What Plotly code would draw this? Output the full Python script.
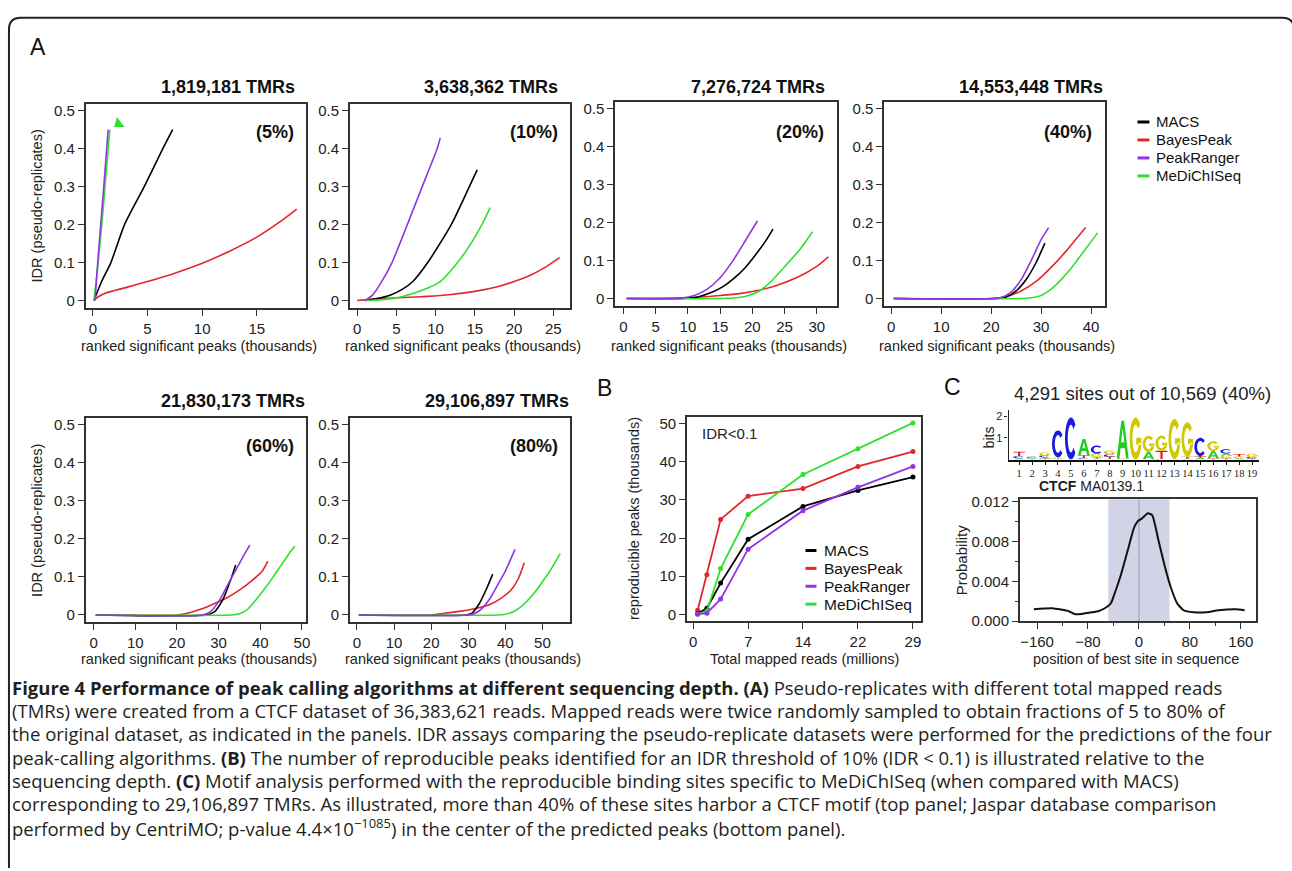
import math
import plotly.graph_objects as go

W, H = 1292, 871
FONT = "Liberation Sans, Arial, sans-serif"
CAPFONT = "Open Sans, Noto Sans, sans-serif"

# ---------------- data ----------------
series_names = ["MACS", "BayesPeak", "PeakRanger", "MeDiChISeq"]
series_colors = ["#000000", "#e3262b", "#9035e6", "#2fe02f"]

panel_titles = ["1,819,181 TMRs", "3,638,362 TMRs", "7,276,724 TMRs",
                "14,553,448 TMRs", "21,830,173 TMRs", "29,106,897 TMRs"]
panel_pcts = ["(5%)", "(10%)", "(20%)", "(40%)", "(60%)", "(80%)"]
idr_ticks = [0, 0.1, 0.2, 0.3, 0.4, 0.5]
idr_tick_text = ["0", "0.1", "0.2", "0.3", "0.4", "0.5"]

# 5% (1,819,181 TMRs)
a05_macs_x = [0.1, 0.8, 1.65, 2.9, 4.7, 6.4, 7.3]
a05_macs_y = [0, 0.05, 0.1, 0.2, 0.3, 0.4, 0.45]
a05_bayes_x = [0.1, 0.5, 1.2, 3, 5, 7.5, 10, 12.5, 15, 17, 18.65]
a05_bayes_y = [0, 0.01, 0.02, 0.034, 0.05, 0.072, 0.098, 0.13, 0.167, 0.205, 0.241]
a05_ranger_x = [0.2, 0.5, 1.0, 1.4]
a05_ranger_y = [0, 0.12, 0.3, 0.45]
a05_medi_x = [0.1, 0.45, 0.85, 1.2, 1.55]
a05_medi_y = [0, 0.09, 0.21, 0.33, 0.45]
a05_medi_arrow_x = [2.35]
a05_medi_arrow_y = [0.466]

# 10% (3,638,362 TMRs)
a10_macs_x = [1.0, 2.5, 4.2, 5.8, 7.1, 9.0, 12.0, 14.3, 15.3]
a10_macs_y = [0, 0.005, 0.014, 0.03, 0.05, 0.1, 0.2, 0.3, 0.344]
a10_bayes_x = [0, 3, 6, 9, 12, 15, 18, 20, 22, 24, 25.8]
a10_bayes_y = [0, 0.005, 0.008, 0.011, 0.016, 0.024, 0.037, 0.05, 0.066, 0.088, 0.113]
a10_ranger_x = [1.0, 2.0, 3.0, 4.45, 6.4, 8.3, 10.2, 10.6]
a10_ranger_y = [0, 0.015, 0.045, 0.1, 0.2, 0.3, 0.4, 0.428]
a10_medi_x = [1.0, 3.0, 5.0, 7.0, 9.0, 10.6, 12.8, 14.5, 15.9, 16.95]
a10_medi_y = [0, 0.002, 0.007, 0.018, 0.033, 0.05, 0.1, 0.15, 0.2, 0.245]

# 20% (7,276,724 TMRs)
a20_macs_x = [0.5, 9, 11.5, 13.8, 15.5, 17, 18.7, 20.3, 22, 23.2]
a20_macs_y = [0, 0, 0.004, 0.017, 0.032, 0.051, 0.078, 0.111, 0.15, 0.183]
a20_bayes_x = [0.5, 8, 12, 15, 18, 21, 24, 27, 30, 31.8]
a20_bayes_y = [0, 0.001, 0.004, 0.008, 0.013, 0.022, 0.036, 0.056, 0.085, 0.11]
a20_ranger_x = [0.5, 5, 9, 11, 13, 15, 17, 19, 20.8]
a20_ranger_y = [0, 0, 0.001, 0.008, 0.025, 0.055, 0.1, 0.155, 0.205]
a20_medi_x = [0.5, 15, 17.5, 19, 20.9, 22.9, 24.8, 27.4, 29.35]
a20_medi_y = [0, 0, 0.002, 0.006, 0.018, 0.045, 0.08, 0.13, 0.176]

# 40% (14,553,448 TMRs)
a40_macs_x = [0.5, 21, 23, 25, 27, 29, 30.75]
a40_macs_y = [0, 0, 0.004, 0.02, 0.05, 0.095, 0.146]
a40_bayes_x = [0.5, 20, 23, 26, 29, 32, 35, 38.9]
a40_bayes_y = [0, 0, 0.005, 0.02, 0.045, 0.082, 0.125, 0.187]
a40_ranger_x = [0.5, 20, 22, 24, 26, 28, 30, 31.5]
a40_ranger_y = [0, 0, 0.003, 0.017, 0.05, 0.1, 0.155, 0.187]
a40_medi_x = [0.5, 26, 28, 30, 32, 34, 36, 38, 41.3]
a40_medi_y = [0, 0, 0.002, 0.008, 0.025, 0.05, 0.08, 0.115, 0.173]

# 60% (21,830,173 TMRs)
a60_macs_x = [0.5, 27, 29, 31, 33, 34.1]
a60_macs_y = [0, 0, 0.008, 0.04, 0.095, 0.131]
a60_bayes_x = [0.5, 20, 23, 26, 29, 32, 35, 38, 40.5, 41.8]
a60_bayes_y = [0, 0, 0.006, 0.016, 0.03, 0.045, 0.065, 0.09, 0.115, 0.141]
a60_ranger_x = [0.5, 26, 28, 30, 32, 34, 36, 37.5]
a60_ranger_y = [0, 0, 0.008, 0.035, 0.075, 0.115, 0.155, 0.183]
a60_medi_x = [0.5, 33, 35, 37, 39, 41, 43, 45, 47, 48.3]
a60_medi_y = [0, 0, 0.003, 0.015, 0.04, 0.068, 0.098, 0.13, 0.162, 0.18]

# 80% (29,106,897 TMRs)
a80_macs_x = [0.5, 29, 31, 33, 35, 36.6]
a80_macs_y = [0, 0, 0.005, 0.03, 0.07, 0.107]
a80_bayes_x = [0.5, 20, 24, 28, 32, 36, 39, 41.5, 43.5, 45.1]
a80_bayes_y = [0, 0, 0.005, 0.01, 0.017, 0.028, 0.045, 0.065, 0.095, 0.137]
a80_ranger_x = [0.5, 30, 32, 34, 36, 38, 40, 42.6]
a80_ranger_y = [0, 0, 0.005, 0.02, 0.045, 0.08, 0.115, 0.172]
a80_medi_x = [0.5, 38, 40, 42, 44, 46, 48, 50, 52, 54.8]
a80_medi_y = [0, 0, 0.002, 0.008, 0.02, 0.038, 0.06, 0.087, 0.115, 0.161]

# Panel B: reproducible peaks (thousands) vs total mapped reads (millions)
b_reads = [0.6, 1.82, 3.64, 7.28, 14.55, 21.83, 29.11]
b_macs = [0.2, 1.6, 8.2, 19.7, 28.3, 32.5, 36.0]
b_bayes = [1.1, 10.4, 24.9, 31.0, 33.0, 38.8, 42.7]
b_ranger = [0.0, 0.3, 4.0, 17.1, 27.2, 33.3, 38.8]
b_medi = [0.1, 0.8, 12.0, 26.2, 36.7, 43.4, 50.2]
b_tickvals = [0, 7.28, 14.55, 21.83, 29.11]
b_ticktext = ["0", "7", "14", "22", "29"]

# Panel C: motif logo (CTCF MA0139.1), stacks bottom -> top (letter, bits)
logo_positions = list(range(1, 20))
logo_stacks = [
    [("A", 0.06), ("C", 0.1), ("T", 0.2)],
    [("T", 0.04), ("A", 0.04), ("C", 0.05)],
    [("T", 0.05), ("A", 0.06), ("C", 0.08), ("G", 0.14)],
    [("T", 0.04), ("G", 0.06), ("C", 1.25)],
    [("C", 1.95)],
    [("G", 0.04), ("C", 0.04), ("T", 0.12), ("A", 0.75)],
    [("A", 0.05), ("T", 0.06), ("G", 0.16), ("C", 0.38)],
    [("A", 0.04), ("T", 0.1), ("C", 0.1), ("G", 0.18)],
    [("G", 0.05), ("A", 1.75)],
    [("G", 1.95)],
    [("A", 0.35), ("G", 0.75)],
    [("C", 0.03), ("T", 0.38), ("G", 0.7)],
    [("A", 0.03), ("G", 1.85)],
    [("A", 0.05), ("T", 0.08), ("G", 1.6)],
    [("A", 0.08), ("T", 0.08), ("C", 0.85)],
    [("T", 0.05), ("A", 0.35), ("G", 0.45)],
    [("T", 0.06), ("G", 0.12), ("A", 0.1), ("C", 0.2)],
    [("A", 0.06), ("G", 0.08), ("T", 0.12)],
    [("T", 0.05), ("C", 0.07), ("G", 0.15)],
]
logo_colors = {"A": "#22cc22", "C": "#1a1ae0", "G": "#d0c800", "T": "#ee1111"}

# Panel C: CentriMo site distribution
c_pos = [-165, -136, -110, -100, -84, -64, -51, -44, -38, -28, -18, -8, -2, 5, 14,
         21, 31, 41, 50, 60, 70, 86, 106, 125, 152, 166]
c_prob = [0.0012, 0.0013, 0.0010, 0.0007, 0.0008, 0.0010, 0.0014, 0.0018, 0.0028,
          0.0047, 0.0070, 0.0093, 0.0100, 0.0103, 0.0108, 0.0106, 0.0080, 0.0054,
          0.0034, 0.0018, 0.0011, 0.0009, 0.0009, 0.0011, 0.0012, 0.0011]
c_window = [-48, 48]
c_xticks = [-160, -80, 0, 80, 160]
c_yticks = [0, 0.004, 0.008, 0.012]
c_yticktext = ["0.000", "0.004", "0.008", "0.012"]

caption_lines = [
    "<b>Figure 4 Performance of peak calling algorithms at different sequencing depth. (A)</b> Pseudo-replicates with different total mapped reads",
    "(TMRs) were created from a CTCF dataset of 36,383,621 reads. Mapped reads were twice randomly sampled to obtain fractions of 5 to 80% of",
    "the original dataset, as indicated in the panels. IDR assays comparing the pseudo-replicate datasets were performed for the predictions of the four",
    "peak-calling algorithms. <b>(B)</b> The number of reproducible peaks identified for an IDR threshold of 10% (IDR &lt; 0.1) is illustrated relative to the",
    "sequencing depth. <b>(C)</b> Motif analysis performed with the reproducible binding sites specific to MeDiChISeq (when compared with MACS)",
    "corresponding to 29,106,897 TMRs. As illustrated, more than 40% of these sites harbor a CTCF motif (top panel; Jaspar database comparison",
    "performed by CentriMO; p-value 4.4×10<sup>−1085</sup>) in the center of the predicted peaks (bottom panel).",
]

# ---------------- layout helpers ----------------
def px(x):
    return x / W

def py(y):
    return 1 - y / H

def dom_x(a, b):
    return [a / W, b / W]

def dom_y(top, bottom):
    return [1 - bottom / H, 1 - top / H]

fig = go.Figure()
layout = dict(width=W, height=H, margin=dict(l=0, r=0, t=0, b=0),
              paper_bgcolor="white", plot_bgcolor="white", showlegend=False,
              font=dict(family=FONT, color="#1a1a1a"))
annotations = []
shapes = []

def ax_name(i, kind):
    return kind + ("axis" if i == 1 else f"axis{i}")

def ref(i, kind):
    return kind if i == 1 else f"{kind}{i}"

axis_line = dict(showline=True, mirror=True, linecolor="#333333", linewidth=1.6,
                 ticks="outside", ticklen=6, tickwidth=1.2, tickcolor="#333333",
                 showgrid=False, zeroline=False)

# ---------------- Panel A ----------------
a_data = [
    [(a05_macs_x, a05_macs_y), (a05_bayes_x, a05_bayes_y), (a05_ranger_x, a05_ranger_y), (a05_medi_x, a05_medi_y)],
    [(a10_macs_x, a10_macs_y), (a10_bayes_x, a10_bayes_y), (a10_ranger_x, a10_ranger_y), (a10_medi_x, a10_medi_y)],
    [(a20_macs_x, a20_macs_y), (a20_bayes_x, a20_bayes_y), (a20_ranger_x, a20_ranger_y), (a20_medi_x, a20_medi_y)],
    [(a40_macs_x, a40_macs_y), (a40_bayes_x, a40_bayes_y), (a40_ranger_x, a40_ranger_y), (a40_medi_x, a40_medi_y)],
    [(a60_macs_x, a60_macs_y), (a60_bayes_x, a60_bayes_y), (a60_ranger_x, a60_ranger_y), (a60_medi_x, a60_medi_y)],
    [(a80_macs_x, a80_macs_y), (a80_bayes_x, a80_bayes_y), (a80_ranger_x, a80_ranger_y), (a80_medi_x, a80_medi_y)],
]
a_boxes = [(86, 307, 99, 306), (351, 572, 99, 306), (617, 840, 97, 304),
           (887, 1108, 97, 304), (86, 307, 418, 626), (351, 572, 418, 626)]
a_xranges = [[-0.65, 19.5], [-0.91, 27.15], [-1.3, 33.2], [-1.4, 42.7], [-1.9, 51], [-1.9, 57.5]]
a_dticks = [5, 5, 5, 10, 10, 10]
a_title_cx = [228.5, 493, 760.5, 1034, 234, 498.6]
a_pct_right = [297, 562, 829, 1097, 297, 562]
draw_order = [1, 0, 3, 2]  # bayes, macs, medi, ranger

for p in range(6):
    i = p + 1
    x0, x1, y0, y1 = a_boxes[p]
    for s in draw_order:
        xs, ys = a_data[p][s]
        fig.add_trace(go.Scatter(x=xs, y=ys, mode="lines", name=series_names[s],
                                 line=dict(color=series_colors[s], width=1.6, shape="spline", smoothing=0.6),
                                 xaxis=ref(i, "x"), yaxis=ref(i, "y"), hoverinfo="skip"))
    layout[ax_name(i, "x")] = dict(axis_line, domain=dom_x(x0, x1), range=a_xranges[p],
                                   tick0=0, dtick=a_dticks[p], anchor=ref(i, "y"),
                                   tickfont=dict(size=15, family=FONT, color="#222"))
    layout[ax_name(i, "y")] = dict(axis_line, domain=dom_y(y0, y1), range=[-0.019, 0.517],
                                   tickvals=idr_ticks, ticktext=idr_tick_text, anchor=ref(i, "x"),
                                   tickfont=dict(size=15, family=FONT, color="#222"))
    title_y = 81 if p < 4 else 401
    annotations.append(dict(x=px(a_title_cx[p]), y=py(title_y), xref="paper", yref="paper",
                            text="<b>" + panel_titles[p] + "</b>", showarrow=False,
                            xanchor="center", yanchor="middle",
                            font=dict(size=18, family=FONT, color="#111")))
    pct_y = 127 if p < 4 else 447
    annotations.append(dict(x=px(a_pct_right[p]), y=py(pct_y), xref="paper", yref="paper",
                            text="<b>" + panel_pcts[p] + "</b>", showarrow=False,
                            xanchor="right", yanchor="middle",
                            font=dict(size=18, family=FONT, color="#111")))
    xt_y = 345 if p < 4 else 663
    annotations.append(dict(x=px((x0 + x1) / 2 + 3), y=py(xt_y), xref="paper", yref="paper",
                            text="ranked significant peaks (thousands)", showarrow=False,
                            xanchor="center", yanchor="middle",
                            font=dict(size=14.5, family=FONT, color="#222")))

# green arrowhead in 5% panel
fig.add_trace(go.Scatter(x=a05_medi_arrow_x, y=a05_medi_arrow_y, mode="markers",
                         marker=dict(symbol="triangle-up", size=11, angle=232, color=series_colors[3]),
                         xaxis="x", yaxis="y", hoverinfo="skip"))

for yc in (202, 522):
    annotations.append(dict(x=px(37), y=py(yc), xref="paper", yref="paper",
                            text="IDR (pseudo-replicates)", textangle=-90, showarrow=False,
                            xanchor="center", yanchor="middle",
                            font=dict(size=14.5, family=FONT, color="#222")))

# A legend
for k, name in enumerate(series_names):
    yy = 117 + k * 18.3
    shapes.append(dict(type="line", xref="paper", yref="paper",
                       x0=px(1141), x1=px(1153), y0=py(yy), y1=py(yy),
                       line=dict(color=series_colors[k], width=3)))
    annotations.append(dict(x=px(1158), y=py(yy), xref="paper", yref="paper", text=name,
                            showarrow=False, xanchor="left", yanchor="middle",
                            font=dict(size=15, family=FONT, color="#111")))

# ---------------- Panel B ----------------
b_series = [b_macs, b_bayes, b_ranger, b_medi]
for s in draw_order:
    fig.add_trace(go.Scatter(x=b_reads, y=b_series[s], mode="lines+markers",
                             line=dict(color=series_colors[s], width=1.8),
                             marker=dict(size=5, color=series_colors[s]),
                             xaxis="x7", yaxis="y7", hoverinfo="skip"))
layout["xaxis7"] = dict(axis_line, domain=dom_x(689, 924), range=[-0.83, 30.2],
                        tickvals=b_tickvals, ticktext=b_ticktext, anchor="y7",
                        tickfont=dict(size=15, family=FONT, color="#222"))
layout["yaxis7"] = dict(axis_line, domain=dom_y(417, 625), range=[-1.8, 51.8],
                        tick0=0, dtick=10, anchor="x7",
                        tickfont=dict(size=15, family=FONT, color="#222"))
annotations.append(dict(x=px(702), y=py(434), xref="paper", yref="paper", text="IDR&lt;0.1",
                        showarrow=False, xanchor="left", yanchor="middle",
                        font=dict(size=15, family=FONT, color="#222")))
for k, name in enumerate(series_names):
    yy = 553 + k * 18.2
    shapes.append(dict(type="line", xref="paper", yref="paper",
                       x0=px(808), x1=px(819), y0=py(yy), y1=py(yy),
                       line=dict(color=series_colors[k], width=3)))
    annotations.append(dict(x=px(825), y=py(yy), xref="paper", yref="paper", text=name,
                            showarrow=False, xanchor="left", yanchor="middle",
                            font=dict(size=15.5, family=FONT, color="#111")))
annotations.append(dict(x=px(636), y=py(521), xref="paper", yref="paper",
                        text="reproducible peaks (thousands)", textangle=-90, showarrow=False,
                        xanchor="center", yanchor="middle",
                        font=dict(size=14.5, family=FONT, color="#222")))
annotations.append(dict(x=px(807), y=py(663), xref="paper", yref="paper",
                        text="Total mapped reads (millions)", showarrow=False,
                        xanchor="center", yanchor="middle",
                        font=dict(size=14.5, family=FONT, color="#222")))

# ---------------- Panel C: logo ----------------
def ring_arc(a0, a1, rx_o, ry_o, rx_i, ry_i, n=24):
    pts = []
    for j in range(n + 1):
        a = math.radians(a0 + (a1 - a0) * j / n)
        pts.append((0.5 + rx_o * math.cos(a), 0.5 + ry_o * math.sin(a)))
    for j in range(n + 1):
        a = math.radians(a1 - (a1 - a0) * j / n)
        pts.append((0.5 + rx_i * math.cos(a), 0.5 + ry_i * math.sin(a)))
    return pts

GLYPHS = {
    "C": [ring_arc(42, 318, 0.5, 0.5, 0.27, 0.33)],
    "G": [ring_arc(42, 345, 0.5, 0.5, 0.27, 0.33),
          [(0.55, 0.36), (0.98, 0.36), (0.98, 0.52), (0.55, 0.52)]],
    "A": [[(0.0, 0.0), (0.38, 1.0), (0.62, 1.0), (1.0, 0.0), (0.77, 0.0), (0.68, 0.27),
           (0.32, 0.27), (0.23, 0.0)],
          [(0.37, 0.43), (0.63, 0.43), (0.5, 0.8)]],
    "T": [[(0.0, 1.0), (1.0, 1.0), (1.0, 0.83), (0.59, 0.83), (0.59, 0.0), (0.41, 0.0),
           (0.41, 0.83), (0.0, 0.83)]],
}

for pos, stack in zip(logo_positions, logo_stacks):
    base = 0.0
    for letter, h in stack:
        parts = []
        for poly in GLYPHS[letter]:
            seg = " L ".join(f"{pos - 0.46 + u * 0.92:.4f},{base + v * h:.4f}" for u, v in poly)
            parts.append("M " + seg + " Z")
        shapes.append(dict(type="path", xref="x8", yref="y8", path=" ".join(parts),
                           fillcolor=logo_colors[letter], line=dict(width=0), layer="above"))
        base += h

fig.add_trace(go.Scatter(x=[logo_positions[0]], y=[0], mode="markers", marker=dict(opacity=0),
                         xaxis="x8", yaxis="y8", hoverinfo="skip"))
layout["xaxis8"] = dict(domain=dom_x(1011.7, 1263), range=[0.18, 19.54], anchor="y8",
                        showline=True, linecolor="#111", linewidth=2.2, ticks="outside", ticklen=3,
                        tickcolor="#111", tickvals=logo_positions, showgrid=False, zeroline=False,
                        tickangle=0, automargin=False,
                        tickfont=dict(size=10.5, family="Liberation Serif, Times New Roman, serif", color="#222"))
layout["yaxis8"] = dict(domain=dom_y(410, 460.5), range=[0, 2.3], anchor="x8",
                        showline=True, linecolor="#222", linewidth=1.2, ticks="outside", ticklen=3,
                        tickcolor="#222", tickvals=[1, 2], showgrid=False, zeroline=False,
                        tickfont=dict(size=11, family=FONT, color="#222"))
annotations.append(dict(x=px(993), y=py(438), xref="paper", yref="paper", text="bits",
                        textangle=-90, showarrow=False, xanchor="center", yanchor="middle",
                        font=dict(size=14, family=FONT, color="#222")))
annotations.append(dict(x=px(1146), y=py(393), xref="paper", yref="paper",
                        text="4,291 sites out of 10,569 (40%)", showarrow=False,
                        xanchor="center", yanchor="middle",
                        font=dict(size=18.5, family=FONT, color="#222")))
annotations.append(dict(x=px(1095), y=py(487), xref="paper", yref="paper",
                        text="<b>CTCF</b> MA0139.1", showarrow=False,
                        xanchor="center", yanchor="middle",
                        font=dict(size=14, family=FONT, color="#222")))

# ---------------- Panel C: probability ----------------
shapes.append(dict(type="rect", xref="x9", yref="paper", x0=c_window[0], x1=c_window[1],
                   y0=dom_y(501, 625)[0], y1=dom_y(501, 625)[1],
                   fillcolor="#d3d3e7", line=dict(width=0), layer="below"))
shapes.append(dict(type="line", xref="x9", yref="paper", x0=0, x1=0,
                   y0=dom_y(501, 625)[0], y1=dom_y(501, 625)[1],
                   line=dict(color="#9a9ab0", width=1), layer="below"))
fig.add_trace(go.Scatter(x=c_pos, y=c_prob, mode="lines",
                         line=dict(color="#111111", width=2, shape="spline", smoothing=0.5),
                         xaxis="x9", yaxis="y9", hoverinfo="skip"))
layout["xaxis9"] = dict(axis_line, domain=dom_x(1023, 1260), range=[-187, 184], anchor="y9",
                        tickvals=c_xticks, minor=dict(tickvals=[-120, -40, 40, 120], ticks="outside",
                                                      ticklen=3, tickcolor="#333"),
                        tickfont=dict(size=15, family=FONT, color="#222"))
layout["yaxis9"] = dict(axis_line, domain=dom_y(501, 625), range=[0, 0.0122], anchor="x9",
                        tickvals=c_yticks, ticktext=c_yticktext,
                        minor=dict(tickvals=[0.002, 0.006, 0.010], ticks="outside",
                                   ticklen=3, tickcolor="#333"),
                        tickfont=dict(size=15, family=FONT, color="#222"))
annotations.append(dict(x=px(964), y=py(563), xref="paper", yref="paper", text="Probability",
                        textangle=-90, showarrow=False, xanchor="center", yanchor="middle",
                        font=dict(size=15, family=FONT, color="#222")))
annotations.append(dict(x=px(1140), y=py(663), xref="paper", yref="paper",
                        text="position of best site in sequence", showarrow=False,
                        xanchor="center", yanchor="middle",
                        font=dict(size=14.5, family=FONT, color="#222")))

# ---------------- panel letters ----------------
for letter, (lx, ly) in zip(["A", "B", "C"], [(38, 41), (606, 388), (955, 387)]):
    annotations.append(dict(x=px(lx), y=py(ly), xref="paper", yref="paper", text=letter,
                            showarrow=False, xanchor="center", yanchor="middle",
                            font=dict(size=23, family=FONT, color="#111")))

# ---------------- caption ----------------
for k, line in enumerate(caption_lines):
    annotations.append(dict(x=px(10), y=py(692 + k * 23.75), xref="paper", yref="paper",
                            text=line, showarrow=False, xanchor="left", yanchor="middle",
                            font=dict(size=18.5, family=CAPFONT, color="#231f20")))

# ---------------- frame ----------------
r = 12
fx0, fy0, fx1 = 9, 11, 1298
frame = (f"M {px(fx0)},{py(H + 5)} L {px(fx0)},{py(fy0 + r)} "
         f"Q {px(fx0)},{py(fy0)} {px(fx0 + r)},{py(fy0)} "
         f"L {px(fx1 - r)},{py(fy0)} Q {px(fx1)},{py(fy0)} {px(fx1)},{py(fy0 + r)} "
         f"L {px(fx1)},{py(H + 5)}")
shapes.append(dict(type="path", xref="paper", yref="paper", path=frame,
                   line=dict(color="#222", width=2)))

layout["annotations"] = annotations
layout["shapes"] = shapes
fig.update_layout(**layout)
fig.write_html("out.html", config={"displayModeBar": False},
               post_script="document.body.style.margin='0';document.body.style.overflow='hidden';")
